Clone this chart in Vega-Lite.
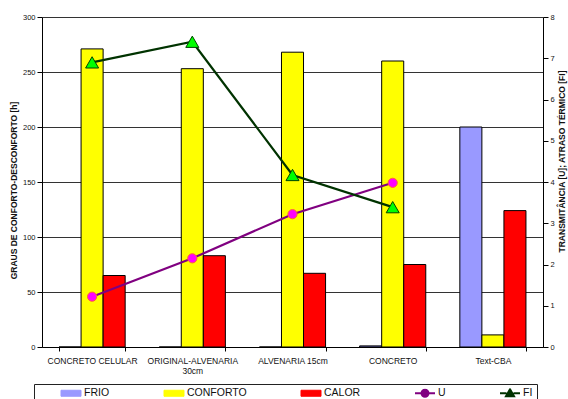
{
  "$schema": "https://vega.github.io/schema/vega-lite/v6.json",
  "width": 501,
  "height": 330,
  "autosize": "none",
  "padding": {"left": 42, "top": 17, "right": 25, "bottom": 52},
  "background": "white",
  "config": {
    "font": "Liberation Sans",
    "view": {"stroke": null},
    "axis": {"domainColor": "black", "tickColor": "black", "labelColor": "#111", "titleColor": "#111"}
  },
  "params": [
    {"name": "simbolo", "expr": "{'U': 'M-1,0H-0.35M0.35,0H1M0.35,0A0.35,0.35,0,1,1,-0.35,0A0.35,0.35,0,1,1,0.35,0', 'FI': 'M-1,0H-0.35M0.35,0H1M0,-0.4L0.4,0.3L-0.4,0.3Z'}"}
  ],
  "datasets": {
    "horas": [
      {"sistema": "CONCRETO CELULAR", "serie": "FRIO", "h": 0},
      {"sistema": "CONCRETO CELULAR", "serie": "CONFORTO", "h": 271},
      {"sistema": "CONCRETO CELULAR", "serie": "CALOR", "h": 65},
      {"sistema": "ORIGINAL-ALVENARIA 30cm", "serie": "FRIO", "h": 0},
      {"sistema": "ORIGINAL-ALVENARIA 30cm", "serie": "CONFORTO", "h": 253},
      {"sistema": "ORIGINAL-ALVENARIA 30cm", "serie": "CALOR", "h": 83},
      {"sistema": "ALVENARIA 15cm", "serie": "FRIO", "h": 0},
      {"sistema": "ALVENARIA 15cm", "serie": "CONFORTO", "h": 268},
      {"sistema": "ALVENARIA 15cm", "serie": "CALOR", "h": 67},
      {"sistema": "CONCRETO", "serie": "FRIO", "h": 1},
      {"sistema": "CONCRETO", "serie": "CONFORTO", "h": 260},
      {"sistema": "CONCRETO", "serie": "CALOR", "h": 75},
      {"sistema": "Text-CBA", "serie": "FRIO", "h": 200},
      {"sistema": "Text-CBA", "serie": "CONFORTO", "h": 11},
      {"sistema": "Text-CBA", "serie": "CALOR", "h": 124}
    ],
    "termico": [
      {"sistema": "CONCRETO CELULAR", "serie": "U", "v": 1.22},
      {"sistema": "ORIGINAL-ALVENARIA 30cm", "serie": "U", "v": 2.15},
      {"sistema": "ALVENARIA 15cm", "serie": "U", "v": 3.22},
      {"sistema": "CONCRETO", "serie": "U", "v": 3.98},
      {"sistema": "CONCRETO CELULAR", "serie": "FI", "v": 6.9},
      {"sistema": "ORIGINAL-ALVENARIA 30cm", "serie": "FI", "v": 7.4},
      {"sistema": "ALVENARIA 15cm", "serie": "FI", "v": 4.17},
      {"sistema": "CONCRETO", "serie": "FI", "v": 3.39}
    ]
  },
  "layer": [
    {
      "data": {"name": "horas"},
      "mark": {"type": "bar", "stroke": "black", "strokeWidth": 1},
      "encoding": {
        "x": {
          "field": "sistema",
          "type": "nominal",
          "scale": {
            "domain": ["CONCRETO CELULAR", "ORIGINAL-ALVENARIA 30cm", "ALVENARIA 15cm", "CONCRETO", "Text-CBA"],
            "paddingInner": 0.34,
            "paddingOuter": 0.17
          },
          "axis": {
            "title": null,
            "labelAngle": 0,
            "labelFontSize": 8.5,
            "labelPadding": 5,
            "labelLimit": 200,
            "tickBand": "extent",
            "tickSize": 4,
            "grid": false,
            "labelExpr": "datum.value == 'ORIGINAL-ALVENARIA 30cm' ? ['ORIGINAL-ALVENARIA', '30cm'] : datum.value"
          }
        },
        "xOffset": {
          "field": "serie",
          "type": "nominal",
          "sort": ["FRIO", "CONFORTO", "CALOR"],
          "scale": {"paddingInner": 0, "paddingOuter": 0}
        },
        "y": {
          "field": "h",
          "type": "quantitative",
          "scale": {"domain": [0, 300], "nice": false},
          "axis": {
            "values": [0, 50, 100, 150, 200, 250, 300],
            "grid": true,
            "gridColor": "#333",
            "labelFontSize": 7.5,
            "tickSize": 5,
            "title": "GRAUS DE CONFORTO-DESCONFORTO [h]",
            "titleFontSize": 8.5,
            "titleFontWeight": "bold",
            "titleAngle": -90,
            "titleAlign": "center",
            "titleBaseline": "middle",
            "titleX": -29,
            "titleY": 173
          }
        },
        "color": {
          "field": "serie",
          "type": "nominal",
          "scale": {
            "domain": ["FRIO", "CONFORTO", "CALOR", "U", "FI"],
            "range": ["#9999FF", "#FFFF00", "#FF0000", "#800080", "#003300"]
          },
          "legend": {
            "title": null,
            "orient": "none",
            "legendX": -8,
            "legendY": 367,
            "direction": "horizontal",
            "columns": 5,
            "columnPadding": 31,
            "symbolSize": 400,
            "clipHeight": 10,
            "labelFontSize": 10.5,
            "labelColor": "#111",
            "padding": 4,
            "strokeColor": "#222",
            "fillColor": "white",
            "encode": {
              "symbols": {
                "update": {
                  "x": {"value": 33},
                  "size": {"value": 400},
                  "shape": {"signal": "simbolo[datum.value] || 'M-1,-0.3H1V0.3H-1Z'"},
                  "fill": {"signal": "datum.value == 'U' ? '#FF00FF' : datum.value == 'FI' ? '#00FF00' : scale('color', datum.value)"},
                  "stroke": {"signal": "datum.value == 'U' ? '#800080' : datum.value == 'FI' ? '#003300' : 'black'"},
                  "strokeWidth": {"signal": "datum.value == 'U' || datum.value == 'FI' ? 2 : 1"},
                  "opacity": {"value": 1}
                }
              },
              "labels": {
                "update": {"x": {"value": 46}}
              }
            }
          }
        }
      }
    },
    {
      "data": {"name": "termico"},
      "encoding": {
        "x": {"field": "sistema", "type": "nominal"},
        "y": {
          "field": "v",
          "type": "quantitative",
          "scale": {"domain": [0, 8], "nice": false},
          "axis": {
            "orient": "right",
            "values": [0, 1, 2, 3, 4, 5, 6, 7, 8],
            "grid": false,
            "labelFontSize": 7.5,
            "tickSize": 5,
            "title": "TRANSMITÂNCIA [U]; ATRASO TÉRMICO [FI]",
            "titleFontSize": 8.5,
            "titleFontWeight": "bold",
            "titleAngle": -90,
            "titleAlign": "center",
            "titleBaseline": "middle",
            "titleX": 18,
            "titleY": 144
          }
        }
      },
      "layer": [
        {
          "mark": {"type": "line", "strokeWidth": 2.2},
          "encoding": {
            "color": {
              "field": "serie",
              "type": "nominal",
              "legend": {
                "title": null,
                "orient": "none",
                "legendX": -8,
                "legendY": 367,
                "direction": "horizontal",
                "columns": 5,
                "columnPadding": 31,
                "symbolSize": 400,
                "clipHeight": 10,
                "labelFontSize": 10.5,
                "labelColor": "#111",
                "padding": 4,
                "strokeColor": "#222",
                "fillColor": "white",
                "encode": {
                  "symbols": {
                    "update": {
                      "x": {"value": 33},
                      "size": {"value": 400},
                      "shape": {"signal": "simbolo[datum.value] || 'M-1,-0.3H1V0.3H-1Z'"},
                      "fill": {"signal": "datum.value == 'U' ? '#FF00FF' : datum.value == 'FI' ? '#00FF00' : scale('color', datum.value)"},
                      "stroke": {"signal": "datum.value == 'U' ? '#800080' : datum.value == 'FI' ? '#003300' : 'black'"},
                      "strokeWidth": {"signal": "datum.value == 'U' || datum.value == 'FI' ? 2 : 1"},
                      "opacity": {"value": 1}
                    }
                  },
                  "labels": {
                    "update": {"x": {"value": 46}}
                  }
                }
              }
            },
            "detail": {"field": "serie"}
          }
        },
        {
          "transform": [{"filter": "datum.serie == 'U'"}],
          "mark": {"type": "point", "shape": "circle", "filled": true, "size": 85, "fill": "#FF00FF", "stroke": "#FF6633", "strokeWidth": 1, "opacity": 1}
        },
        {
          "transform": [{"filter": "datum.serie == 'FI'"}],
          "mark": {"type": "point", "shape": "triangle-up", "filled": true, "size": 170, "fill": "#00FF00", "stroke": "#004400", "strokeWidth": 1, "opacity": 1}
        }
      ]
    }
  ],
  "resolve": {"scale": {"y": "independent"}}
}
